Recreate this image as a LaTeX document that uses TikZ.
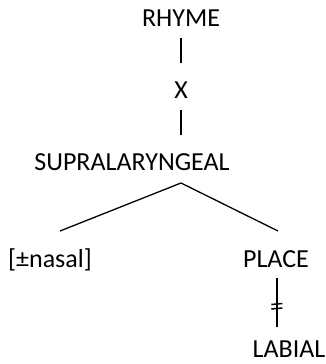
\documentclass[tikz,border=0pt]{standalone}
\usepackage{fontspec}
\setmainfont{Carlito}
\usetikzlibrary{calc}
\begin{document}
\begin{tikzpicture}[x=1pt,y=-1pt,
  lbl/.style={font=\fontsize{26}{30}\selectfont, inner sep=0pt, anchor=base},
  vline/.style={line width=2.2pt},
  bline/.style={line width=1.3pt},
  tick/.style={line width=1.5pt}]
\useasboundingbox (0,0) rectangle (325,364);
\node[lbl] (rhyme) at (181,26) {RHYME};
\node[lbl] (x) at (181,98) {X};
\node[lbl] (supra) at (132,170) {SUPRALARYNGEAL};
\node[lbl] (nasal) at (50,267) {[±nasal]};
\node[lbl] (place) at (276,267) {PLACE};
\node[lbl] (labial) at (289,357) {LABIAL};
\coordinate (r1) at (181,38);
\coordinate (r2) at (181,63);
\coordinate (x1) at (181,110);
\coordinate (x2) at (181,135);
\coordinate (apex) at (181,183);
\coordinate (ln) at (60,231);
\coordinate (rp) at (278,231);
\coordinate (p1) at (277.3,278);
\coordinate (p2) at (277.3,327);
\coordinate (t1) at (277.3,304);
\coordinate (t2) at (277.3,308.5);
\draw[vline] (r1) -- (r2);
\draw[vline] (x1) -- (x2);
\draw[bline] (apex) -- (ln);
\draw[bline] (apex) -- (rp);
\draw[vline] (p1) -- (p2);
\draw[tick] ($(t1)+(-6,0.5)$) -- ($(t1)+(5,-0.5)$);
\draw[tick] ($(t2)+(-6,0.5)$) -- ($(t2)+(5,-0.5)$);
\end{tikzpicture}
\end{document}
